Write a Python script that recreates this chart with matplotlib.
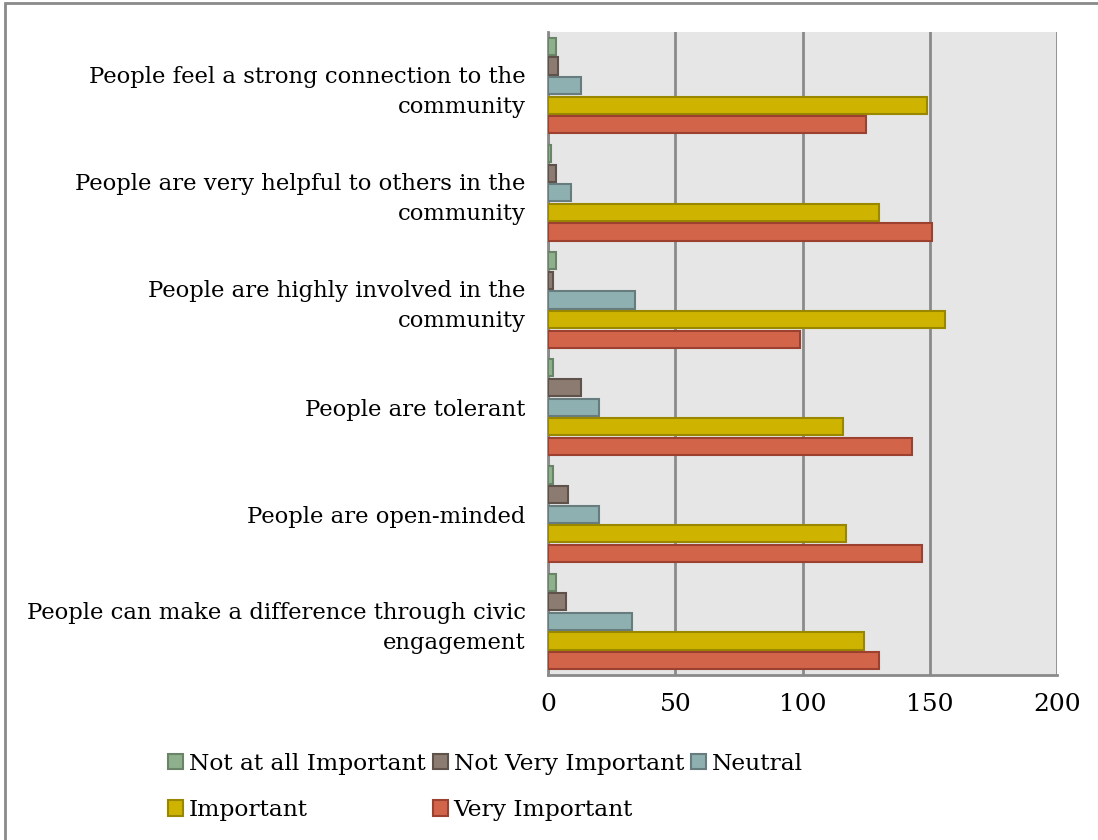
import numpy as np
import matplotlib.pyplot as plt
from matplotlib.patches import Rectangle

categories = [
    "People feel a strong connection to the\ncommunity",
    "People are very helpful to others in the\ncommunity",
    "People are highly involved in the\ncommunity",
    "People are tolerant",
    "People are open-minded",
    "People can make a difference through civic\nengagement",
]
series = ["Not at all Important", "Not Very Important", "Neutral",
          "Important", "Very Important"]
not_at_all = [3, 1, 3, 2, 2, 3]
not_very = [4, 3, 2, 13, 8, 7]
neutral = [13, 9, 34, 20, 20, 33]
important = [149, 130, 156, 116, 117, 124]
very_important = [125, 151, 99, 143, 147, 130]

fills = ["#8fb08c", "#8c7b70", "#8fb0b0", "#ceb400", "#d2644a"]
edges = ["#6a8468", "#5f524a", "#667c7f", "#9a8700", "#9c4030"]

plt.rcParams['font.family'] = ['DejaVu Serif']

fig = plt.figure(figsize=(10.98, 8.4), dpi=100)
ax = fig.add_axes([0.4991, 0.1964, 0.4636, 0.7655])
ax.set_facecolor("#e6e6e6")

y = np.arange(len(categories))
step = 0.183
height = 0.16
handles = []
for i, vals in enumerate([not_at_all, not_very, neutral, important, very_important]):
    offs = (i - 2) * step
    b = ax.barh(y + offs, vals, height=height, color=fills[i],
                edgecolor=edges[i], linewidth=1.5, label=series[i], zorder=3)
    handles.append(b)

ax.set_xlim(0, 200)
ax.set_ylim(len(categories) - 0.5, -0.5)
ax.set_xticks([0, 50, 100, 150, 200])
ax.set_yticks(y)
ax.set_yticklabels(categories, fontsize=16.4, linespacing=1.45)
ax.tick_params(axis='y', length=0, pad=16)
ax.tick_params(axis='x', length=0, pad=13, labelsize=18)
ax.xaxis.grid(True, color="#8a8a8a", linewidth=2, zorder=1)
ax.set_axisbelow(True)
for s in ["top", "right"]:
    ax.spines[s].set_visible(False)
for s in ["left", "bottom"]:
    ax.spines[s].set_color("#8a8a8a")
    ax.spines[s].set_linewidth(2)

order = [0, 3, 1, 4, 2]
fig.legend([handles[k] for k in order], [series[k] for k in order],
           loc="upper left", bbox_to_anchor=(0.153, 0.104), ncol=3,
           frameon=False, fontsize=16.8, handlelength=0.65, handleheight=0.65,
           handletextpad=0.25, columnspacing=0.3, labelspacing=1.05,
           borderaxespad=0, borderpad=0)

fig.patches.append(Rectangle((5 / 1098, -0.1), 1.2, 1.1 - 2.7 / 840,
                             transform=fig.transFigure, fill=False,
                             edgecolor="#8a8a8a", linewidth=2))

fig.savefig("out.png", dpi=100)
